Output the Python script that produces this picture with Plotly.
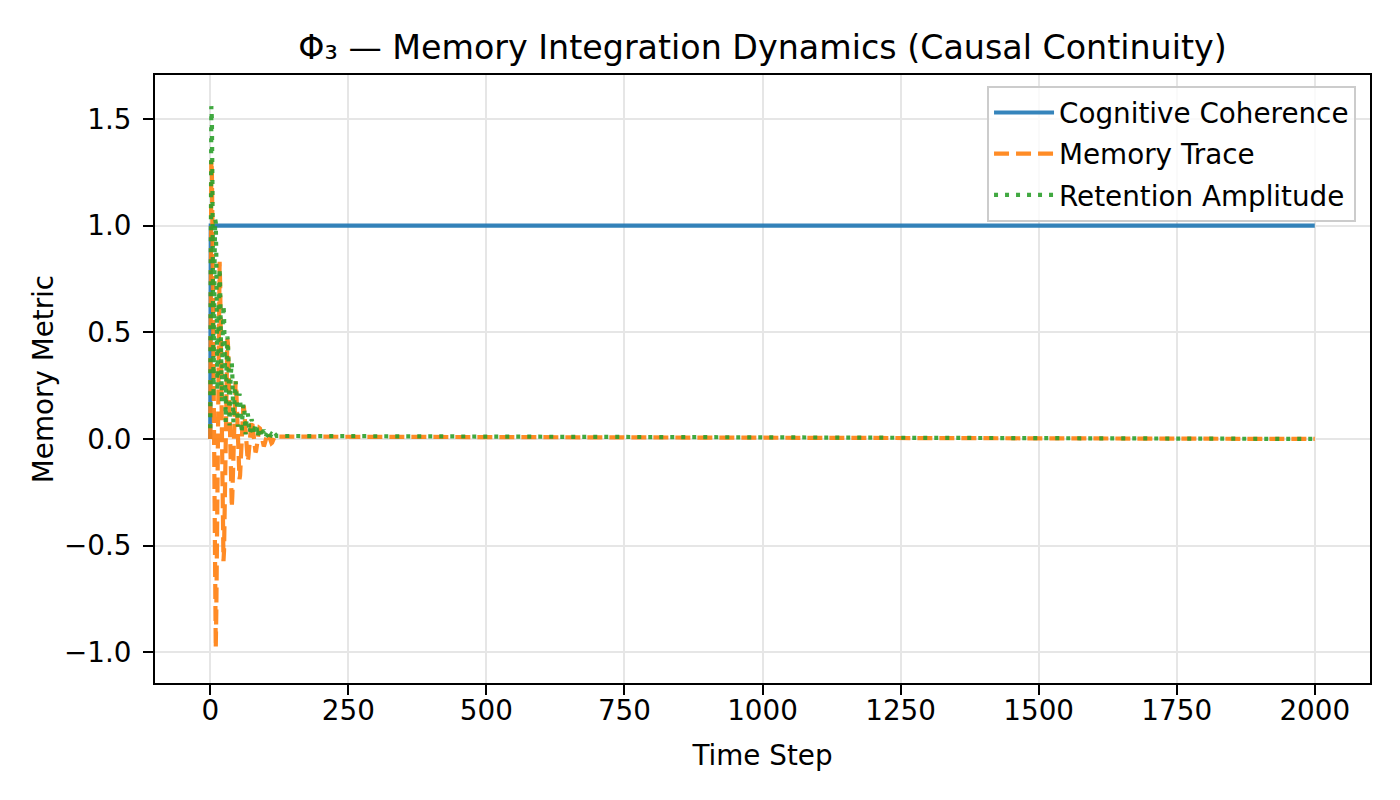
import plotly.graph_objects as go

# ---------------- data ----------------
early_steps = list(range(0, 121))
tail_step = [2000]

coherence_steps = [0, 1, 2000]
cognitive_coherence = [0.0, 1.0, 1.0]

memory_trace_early = [
    0.0, 1.11, 1.31, 1.26, 0.99, 0.56, 0.062, -0.41, -0.775, -0.973,
    -0.981, -0.814, -0.513, -0.142, 0.25, 0.58, 0.78, 0.83, 0.72, 0.50,
    0.20, -0.104, -0.349, -0.513, -0.573, -0.525, -0.387, -0.19, 0.03, 0.24,
    0.40, 0.47, 0.45, 0.36, 0.20, 0.02, -0.134, -0.254, -0.319, -0.321,
    -0.267, -0.168, -0.046, 0.08, 0.19, 0.26, 0.27, 0.24, 0.16, 0.065,
    -0.034, -0.114, -0.168, -0.188, -0.173, -0.127, -0.062, 0.009, 0.08, 0.13,
    0.155, 0.15, 0.117, 0.066, 0.007, -0.044, -0.084, -0.104, -0.105, -0.087,
    -0.055, -0.015, 0.027, 0.063, 0.084, 0.089, 0.078, 0.053, 0.021, -0.011,
    -0.038, -0.055, -0.062, -0.057, -0.042, -0.02, 0.003, 0.026, 0.043, 0.051,
    0.049, 0.038, 0.022, 0.002, -0.014, -0.027, -0.034, -0.035, -0.029, -0.018,
    -0.005, 0.009, 0.02, 0.028, 0.029, 0.026, 0.018, 0.006, -0.004, -0.012,
    -0.018, -0.02, -0.018, -0.014, -0.007, 0.001, 0.008, 0.013, 0.015, 0.015,
    0.011,
]
memory_trace_tail = [0.0]

retention_early = [
    0.05, 1.27, 1.56, 1.50, 1.183, 0.714, 0.194, 0.528, 0.867, 1.029,
    1.015, 0.862, 0.581, 0.225, 0.303, 0.587, 0.761, 0.80, 0.706, 0.512,
    0.246, 0.172, 0.405, 0.566, 0.627, 0.581, 0.437, 0.242, 0.08, 0.271,
    0.408, 0.48, 0.46, 0.371, 0.229, 0.063, 0.175, 0.294, 0.357, 0.358,
    0.30, 0.20, 0.078, 0.104, 0.201, 0.257, 0.27, 0.24, 0.173, 0.084,
    0.058, 0.139, 0.192, 0.212, 0.196, 0.15, 0.083, 0.028, 0.093, 0.14,
    0.163, 0.157, 0.126, 0.077, 0.021, 0.059, 0.099, 0.119, 0.119, 0.101,
    0.068, 0.026, 0.035, 0.068, 0.088, 0.092, 0.082, 0.059, 0.028, 0.02,
    0.047, 0.065, 0.072, 0.067, 0.051, 0.028, 0.009, 0.03, 0.045, 0.052,
    0.049, 0.04, 0.024, 0.007, 0.019, 0.032, 0.04, 0.041, 0.035, 0.023,
    0.009, 0.012, 0.023, 0.029, 0.031, 0.028, 0.02, 0.009, 0.006, 0.015,
    0.021, 0.023, 0.021, 0.016, 0.009, 0.003, 0.01, 0.015, 0.018, 0.017,
    0.014,
]
retention_tail = [0.0]

x_ticks = [0, 250, 500, 750, 1000, 1250, 1500, 1750, 2000]
y_ticks = [-1.0, -0.5, 0.0, 0.5, 1.0, 1.5]
y_tick_labels = ["\u22121.0", "\u22120.5", "0.0", "0.5", "1.0", "1.5"]

title_text = "\u03a6\u2083 \u2014 Memory Integration Dynamics (Causal Continuity)"

# ---------------- figure ----------------
FONT = "DejaVu Sans"
FS = 27.8
LW = 4.2
steps = early_steps + tail_step

fig = go.Figure()
fig.add_trace(go.Scatter(
    x=coherence_steps, y=cognitive_coherence, mode="lines",
    name="Cognitive Coherence", legendgroup="g1",
    line=dict(color="#1f77b4", width=LW), opacity=0.9,
))
fig.add_trace(go.Scatter(
    x=steps, y=memory_trace_early + memory_trace_tail, mode="lines",
    name="Memory Trace", legendgroup="g2",
    line=dict(color="#ff7f0e", width=LW, dash="15px,7px"), opacity=0.9,
))
fig.add_trace(go.Scatter(
    x=steps, y=retention_early + retention_tail, mode="lines",
    name="Retention Amplitude", legendgroup="g3",
    line=dict(color="#2ca02c", width=LW, dash="4px,7px"), opacity=0.9,
))

axis_common = dict(
    showline=True, linecolor="black", linewidth=2, mirror=True,
    ticks="outside", ticklen=10, tickwidth=2, tickcolor="black",
    showgrid=True, gridcolor="#e6e6e6", gridwidth=2,
    zeroline=False, tickfont=dict(family=FONT, size=FS, color="black"),
)

fig.update_layout(
    width=1400, height=800,
    paper_bgcolor="white", plot_bgcolor="white",
    margin=dict(l=147, r=38, t=67, b=125),
    title=dict(text=title_text, x=0.5, xref="paper", xanchor="center",
               y=0.951, yanchor="middle",
               font=dict(family=FONT, size=33.3, color="black")),
    font=dict(family=FONT, color="black"),
    showlegend=True,
    legend=dict(
        x=0.9885, y=0.982, xanchor="right", yanchor="top",
        bgcolor="rgba(255,255,255,0.8)", bordercolor="#cccccc", borderwidth=2,
        font=dict(family=FONT, size=FS, color="black"),
        itemwidth=60, tracegroupgap=2,
    ),
    xaxis=dict(axis_common, range=[-100, 2100], tickvals=x_ticks, ticklabelstandoff=-8,
               title=dict(text="Time Step", font=dict(family=FONT, size=FS), standoff=19)),
    yaxis=dict(axis_common, range=[-1.144, 1.706], tickvals=y_ticks, ticktext=y_tick_labels,
               ticklabelstandoff=6,
               title=dict(text="Memory Metric", font=dict(family=FONT, size=FS), standoff=2)),
)

fig.write_html("out.html")
